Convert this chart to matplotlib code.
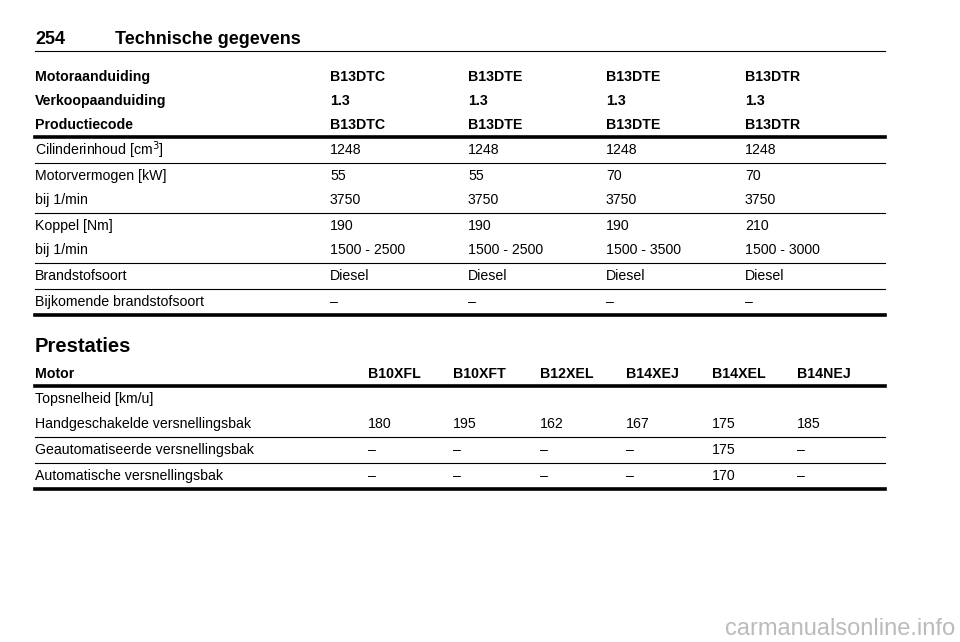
import matplotlib.pyplot as plt

plt.rcParams['font.family'] = ['Liberation Sans', 'DejaVu Sans']

page_number = "254"
page_title = "Technische gegevens"

# engine table
engine_header = [
    ["Motoraanduiding", "B13DTC", "B13DTE", "B13DTE", "B13DTR"],
    ["Verkoopaanduiding", "1.3", "1.3", "1.3", "1.3"],
    ["Productiecode", "B13DTC", "B13DTE", "B13DTE", "B13DTR"],
]
engine_groups = [
    [["Cilinderinhoud [cm$^3$]", "1248", "1248", "1248", "1248"]],
    [["Motorvermogen [kW]", "55", "55", "70", "70"],
     ["bij 1/min", "3750", "3750", "3750", "3750"]],
    [["Koppel [Nm]", "190", "190", "190", "210"],
     ["bij 1/min", "1500 - 2500", "1500 - 2500", "1500 - 3500", "1500 - 3000"]],
    [["Brandstofsoort", "Diesel", "Diesel", "Diesel", "Diesel"]],
    [["Bijkomende brandstofsoort", "–", "–", "–", "–"]],
]

# performance table
perf_title = "Prestaties"
perf_header = ["Motor", "B10XFL", "B10XFT", "B12XEL", "B14XEJ", "B14XEL", "B14NEJ"]
perf_groups = [
    [["Topsnelheid [km/u]", "", "", "", "", "", ""],
     ["Handgeschakelde versnellingsbak", "180", "195", "162", "167", "175", "185"]],
    [["Geautomatiseerde versnellingsbak", "–", "–", "–", "–", "175", "–"]],
    [["Automatische versnellingsbak", "–", "–", "–", "–", "170", "–"]],
]

fig = plt.figure(figsize=(9.6, 6.42), dpi=100)
ax = fig.add_axes([0, 0, 1, 1])
ax.set_xlim(0, 960)
ax.set_ylim(642, 0)
ax.axis('off')

L, R = 35, 885
fs = 10.2

ax.text(L, 40, page_number, fontsize=13, fontweight='bold', va='center')
ax.text(115, 40, page_title, fontsize=13, fontweight='bold', va='center')
ax.plot([L, R], [51, 51], color='black', lw=0.8)


def draw_table(y, header, groups, cols, step):
    for row in header:
        for x, t in zip(cols, row):
            ax.text(x, y, t, fontsize=fs, fontweight='bold', va='center')
        y += step
    y = y - step + 11.5
    ax.plot([L, R], [y, y], color='black', lw=2.6)
    for gi, g in enumerate(groups):
        y += 13.5
        for ri, row in enumerate(g):
            if ri:
                y += step
            for x, t in zip(cols, row):
                ax.text(x, y, t, fontsize=fs, va='center')
        y += 12.5
        last = gi == len(groups) - 1
        ax.plot([L, R], [y, y], color='black', lw=2.6 if last else 0.8)
    return y


draw_table(77, engine_header, engine_groups, [L, 330, 468, 606, 745], 24)
ax.text(L, 347, perf_title, fontsize=14.5, fontweight='bold', va='center')
draw_table(374, [perf_header], perf_groups, [L, 368, 453, 540, 626, 712, 797], 25)

ax.text(955, 635, "carmanualsonline.info", fontsize=17, color='#bbbbbb',
        ha='right', va='baseline')

fig.savefig('out.png', dpi=100)
